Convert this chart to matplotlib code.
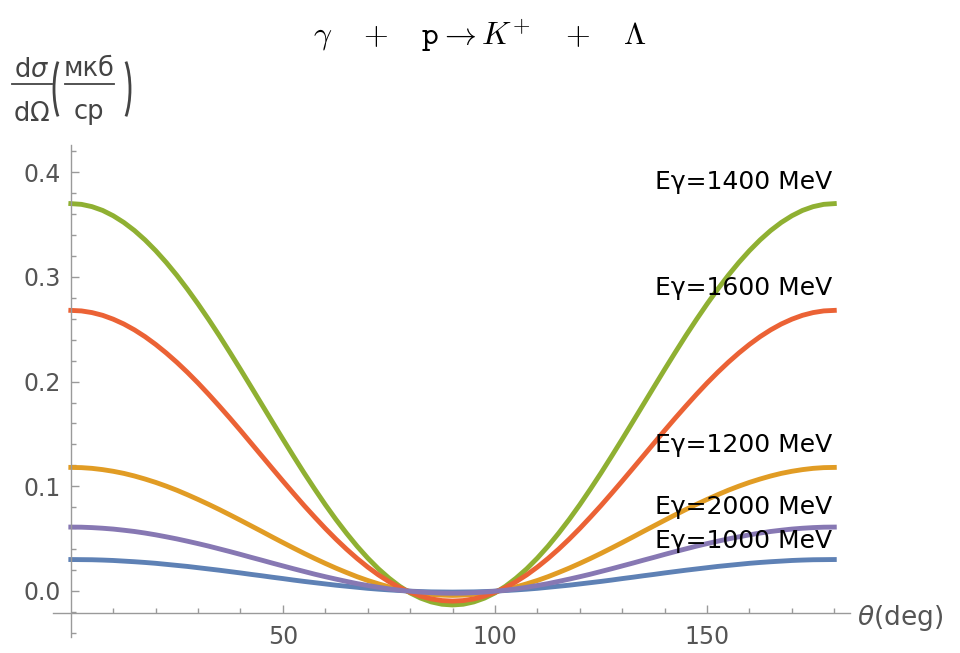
import numpy as np
import matplotlib
matplotlib.use("Agg")
import matplotlib.pyplot as plt
from matplotlib.lines import Line2D
from matplotlib.patches import Arc
from matplotlib.transforms import IdentityTransform
from matplotlib.ticker import MultipleLocator, FixedLocator

# scattering angle grid, deg
theta = np.arange(0, 180.1, 2.5)

# d(sigma)/d(Omega), mkb/sr
e1000 = [0.0300, 0.0299, 0.0298, 0.0295, 0.0291, 0.0285, 0.0279, 0.0272, 0.0264, 0.0254,
         0.0244, 0.0234, 0.0222, 0.0210, 0.0198, 0.0185, 0.0172, 0.0158, 0.0145, 0.0131,
         0.0118, 0.0104, 0.0091, 0.0079, 0.0067, 0.0055, 0.0045, 0.0035, 0.0025, 0.0017,
         0.0010, 0.0004, -0.0002, -0.0006, -0.0009, -0.0010, -0.0011,
         -0.0010, -0.0009, -0.0006, -0.0002, 0.0004, 0.0010, 0.0017, 0.0025, 0.0035,
         0.0045, 0.0055, 0.0067, 0.0079, 0.0091, 0.0104, 0.0118, 0.0131, 0.0145, 0.0158,
         0.0172, 0.0185, 0.0198, 0.0210, 0.0222, 0.0234, 0.0244, 0.0254, 0.0264, 0.0272,
         0.0279, 0.0285, 0.0291, 0.0295, 0.0298, 0.0299, 0.0300]
e1200 = [0.1180, 0.1178, 0.1171, 0.1159, 0.1143, 0.1123, 0.1098, 0.1069, 0.1037, 0.1001,
         0.0962, 0.0919, 0.0874, 0.0827, 0.0778, 0.0727, 0.0675, 0.0622, 0.0569, 0.0515,
         0.0462, 0.0410, 0.0359, 0.0310, 0.0263, 0.0218, 0.0176, 0.0136, 0.0100, 0.0068,
         0.0039, 0.0014, -0.0006, -0.0022, -0.0033, -0.0040, -0.0043,
         -0.0040, -0.0033, -0.0022, -0.0006, 0.0014, 0.0039, 0.0068, 0.0100, 0.0136,
         0.0176, 0.0218, 0.0263, 0.0310, 0.0359, 0.0410, 0.0462, 0.0515, 0.0569, 0.0622,
         0.0675, 0.0727, 0.0778, 0.0827, 0.0874, 0.0919, 0.0962, 0.1001, 0.1037, 0.1069,
         0.1098, 0.1123, 0.1143, 0.1159, 0.1171, 0.1178, 0.1180]
e1400 = [0.3700, 0.3693, 0.3671, 0.3635, 0.3584, 0.3520, 0.3443, 0.3353, 0.3251, 0.3138,
         0.3015, 0.2882, 0.2741, 0.2593, 0.2439, 0.2279, 0.2116, 0.1950, 0.1783, 0.1616,
         0.1450, 0.1287, 0.1127, 0.0973, 0.0824, 0.0683, 0.0551, 0.0427, 0.0314, 0.0212,
         0.0123, 0.0045, -0.0019, -0.0069, -0.0105, -0.0127, -0.0134,
         -0.0127, -0.0105, -0.0069, -0.0019, 0.0045, 0.0123, 0.0212, 0.0314, 0.0427,
         0.0551, 0.0683, 0.0824, 0.0973, 0.1127, 0.1287, 0.1450, 0.1616, 0.1783, 0.1950,
         0.2116, 0.2279, 0.2439, 0.2593, 0.2741, 0.2882, 0.3015, 0.3138, 0.3251, 0.3353,
         0.3443, 0.3520, 0.3584, 0.3635, 0.3671, 0.3693, 0.3700]
e1600 = [0.2680, 0.2675, 0.2659, 0.2633, 0.2596, 0.2550, 0.2494, 0.2429, 0.2355, 0.2273,
         0.2184, 0.2088, 0.1986, 0.1878, 0.1766, 0.1651, 0.1533, 0.1412, 0.1291, 0.1170,
         0.1050, 0.0932, 0.0816, 0.0705, 0.0597, 0.0495, 0.0399, 0.0310, 0.0228, 0.0154,
         0.0089, 0.0033, -0.0013, -0.0050, -0.0076, -0.0092, -0.0097,
         -0.0092, -0.0076, -0.0050, -0.0013, 0.0033, 0.0089, 0.0154, 0.0228, 0.0310,
         0.0399, 0.0495, 0.0597, 0.0705, 0.0816, 0.0932, 0.1050, 0.1170, 0.1291, 0.1412,
         0.1533, 0.1651, 0.1766, 0.1878, 0.1986, 0.2088, 0.2184, 0.2273, 0.2355, 0.2429,
         0.2494, 0.2550, 0.2596, 0.2633, 0.2659, 0.2675, 0.2680]
e2000 = [0.0610, 0.0609, 0.0605, 0.0599, 0.0591, 0.0580, 0.0568, 0.0553, 0.0536, 0.0517,
         0.0497, 0.0475, 0.0452, 0.0428, 0.0402, 0.0376, 0.0349, 0.0321, 0.0294, 0.0266,
         0.0239, 0.0212, 0.0186, 0.0160, 0.0136, 0.0113, 0.0091, 0.0070, 0.0052, 0.0035,
         0.0020, 0.0007, -0.0003, -0.0011, -0.0017, -0.0021, -0.0022,
         -0.0021, -0.0017, -0.0011, -0.0003, 0.0007, 0.0020, 0.0035, 0.0052, 0.0070,
         0.0091, 0.0113, 0.0136, 0.0160, 0.0186, 0.0212, 0.0239, 0.0266, 0.0294, 0.0321,
         0.0349, 0.0376, 0.0402, 0.0428, 0.0452, 0.0475, 0.0497, 0.0517, 0.0536, 0.0553,
         0.0568, 0.0580, 0.0591, 0.0599, 0.0605, 0.0609, 0.0610]

series = [e1000, e1200, e1400, e1600, e2000]
labels = ["E\u03b3=1000 MeV", "E\u03b3=1200 MeV", "E\u03b3=1400 MeV",
          "E\u03b3=1600 MeV", "E\u03b3=2000 MeV"]
colors = ["#5e81b5", "#e19c24", "#8fb032", "#eb6235", "#8778b3"]
label_y = [0.048, 0.139, 0.391, 0.289, 0.080]

W, H = 960, 653
fig = plt.figure(figsize=(W / 100, H / 100), dpi=100)
ax = fig.add_axes([53 / W, 16 / H, 797 / W, 492 / H])

for ys, c in zip(series, colors):
    ax.plot(theta, ys, color=c, lw=3.5, solid_joinstyle="round")

for lab, ly in zip(labels, label_y):
    ax.text(179.6, ly, lab, ha="right", va="center", fontsize=18,
            family="DejaVu Sans", color="black")

ax.set_xlim(-4.2, 183.7)
ax.set_ylim(-0.044, 0.426)

# axes cross like in Mathematica
ax.spines["top"].set_visible(False)
ax.spines["right"].set_visible(False)
ax.spines["left"].set_position(("data", 0))
ax.spines["bottom"].set_position(("data", -0.021))
for s in ("left", "bottom"):
    ax.spines[s].set_color("#9a9a9a")
    ax.spines[s].set_linewidth(1.0)

ax.xaxis.set_major_locator(FixedLocator([50, 100, 150]))
ax.xaxis.set_minor_locator(FixedLocator([10, 20, 30, 40, 60, 70, 80, 90, 110, 120, 130, 140, 160, 170, 180]))
ax.yaxis.set_major_locator(FixedLocator([0.0, 0.1, 0.2, 0.3, 0.4]))
ax.yaxis.set_minor_locator(MultipleLocator(0.02))
ax.set_yticklabels(["0.0", "0.1", "0.2", "0.3", "0.4"])
ax.tick_params(which="both", direction="in", color="#9a9a9a", labelcolor="#555555",
               labelsize=17, width=1.0)
ax.tick_params(which="major", length=6)
ax.tick_params(which="minor", length=3.5)
ax.tick_params(axis="x", pad=9)
ax.tick_params(axis="y", pad=7)

fig.text(857 / W, 1 - 618 / H, r"$\theta$(deg)", ha="left", va="center",
         fontsize=19, color="#555555", family="DejaVu Sans", math_fontfamily="dejavusans")

# y label: dσ/dΩ (мкб/ср), built by hand so the fractions stay full size
lab_c = "#444444"
def ftxt(x, y, s):
    fig.text(x / W, 1 - y / H, s, ha="center", va="baseline", fontsize=18.5,
             color=lab_c, family="DejaVu Sans", math_fontfamily="dejavusans")

def fline(x0, x1, y):
    fig.add_artist(Line2D([x0 / W, x1 / W], [1 - y / H, 1 - y / H],
                          transform=fig.transFigure, color=lab_c, lw=1.3))

ftxt(32, 77, r"d$\sigma$")
fline(12, 52, 84)
ftxt(32, 121, r"d$\Omega$")
ftxt(89, 76, "мкб")
fline(65, 114, 84)
ftxt(89, 119, "ср")
fig.add_artist(Arc((68, H - 89), 28, 78, theta1=110, theta2=250,
                   transform=IdentityTransform(), color=lab_c, lw=2.0))
fig.add_artist(Arc((116, H - 89), 28, 78, theta1=-70, theta2=70,
                   transform=IdentityTransform(), color=lab_c, lw=2.0))

fig.text(0.5, 1 - 36 / H,
         r"$\gamma\quad+\quad\mathtt{p}\rightarrow K^{+}\quad+\quad\Lambda$",
         ha="center", va="center", fontsize=23, math_fontfamily="cm", color="black")

fig.savefig("out.png", dpi=100, facecolor="white")
